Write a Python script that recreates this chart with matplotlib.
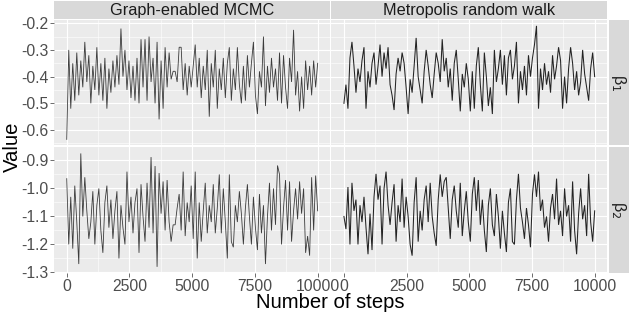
import numpy as np
import matplotlib
matplotlib.use("Agg")
import matplotlib.pyplot as plt
from matplotlib.ticker import MultipleLocator, FuncFormatter

plt.rcParams['font.family'] = ['Liberation Sans', 'DejaVu Sans']
plt.rcParams['axes.unicode_minus'] = False

# ---------------- data (thinned every 80 steps) ----------------
methods = ["Graph-enabled MCMC", "Metropolis random walk"]
params = ["β$_1$", "β$_2$"]
thin = 80

graph_beta1 = [
    -0.635, -0.30, -0.52, -0.35, -0.49, -0.31, -0.47, -0.34, -0.44, -0.27,
    -0.42, -0.32, -0.50, -0.36, -0.45, -0.29, -0.47, -0.35, -0.49, -0.33,
    -0.52, -0.37, -0.46, -0.34, -0.44, -0.32, -0.43, -0.22, -0.40, -0.30,
    -0.45, -0.34, -0.48, -0.36, -0.49, -0.33, -0.50, -0.26, -0.44, -0.26,
    -0.49, -0.25, -0.42, -0.33, -0.50, -0.27, -0.56, -0.34, -0.52, -0.29,
    -0.44, -0.31, -0.41, -0.38, -0.38, -0.42, -0.29, -0.29, -0.45, -0.35,
    -0.47, -0.36, -0.44,
    -0.36, -0.28, -0.44, -0.33, -0.48, -0.36, -0.45, -0.30, -0.55, -0.35,
    -0.44, -0.30, -0.52, -0.37, -0.45, -0.33, -0.48, -0.35, -0.29, -0.49,
    -0.37, -0.45, -0.29, -0.43, -0.50, -0.36, -0.49, -0.32, -0.44, -0.35,
    -0.27, -0.47, -0.54, -0.38, -0.44, -0.25, -0.51, -0.36, -0.46, -0.33,
    -0.44, -0.37, -0.49, -0.31, -0.50, -0.32, -0.44, -0.52, -0.33, -0.42,
    -0.225, -0.47, -0.38, -0.53, -0.40, -0.52, -0.34, -0.45, -0.36, -0.47,
    -0.34, -0.44, -0.35,
]

metro_beta1 = [
    -0.50, -0.43, -0.52, -0.33, -0.27, -0.36, -0.46, -0.37, -0.42, -0.34,
    -0.29, -0.52, -0.38, -0.44, -0.35, -0.31, -0.43, -0.36, -0.28, -0.40,
    -0.31, -0.37, -0.29, -0.43, -0.47, -0.525, -0.39, -0.33, -0.38, -0.31,
    -0.35, -0.44, -0.54, -0.41, -0.46, -0.36, -0.255, -0.40, -0.45, -0.50,
    -0.38, -0.30, -0.36, -0.43, -0.48, -0.39, -0.31, -0.35, -0.42, -0.26,
    -0.38, -0.33, -0.44, -0.37, -0.49, -0.35, -0.30, -0.41, -0.53, -0.39,
    -0.44, -0.35, -0.41,
    -0.53, -0.38, -0.52, -0.36, -0.29, -0.43, -0.53, -0.31, -0.40, -0.51,
    -0.44, -0.54, -0.30, -0.42, -0.37, -0.30, -0.43, -0.32, -0.47, -0.33,
    -0.30, -0.41, -0.36, -0.27, -0.50, -0.38, -0.45, -0.36, -0.47, -0.32,
    -0.40, -0.33, -0.28, -0.21, -0.52, -0.37, -0.45, -0.35, -0.43, -0.38,
    -0.46, -0.32, -0.41, -0.36, -0.29, -0.34, -0.52, -0.40, -0.50, -0.37,
    -0.29, -0.35, -0.45, -0.38, -0.47, -0.42, -0.30, -0.39, -0.44, -0.49,
    -0.37, -0.31, -0.40,
]

graph_beta2 = [
    -0.965, -1.20, -1.03, -1.215, -0.99, -1.12, -1.27, -0.875, -1.10, -0.96,
    -1.08, -1.18, -1.12, -1.01, -1.20, -1.06, -1.00, -1.15, -1.23, -1.05,
    -0.99, -1.14, -1.04, -1.18, -1.08, -1.01, -1.25, -1.06, -1.14, -1.20,
    -0.94, -1.12, -1.03, -1.16, -1.05, -1.00, -1.23, -0.985, -1.10, -1.19,
    -0.98, -1.14, -0.888, -1.16, -0.92, -1.28, -0.945, -1.09, -0.975, -1.15,
    -0.97, -1.12, -1.19, -1.13, -1.13, -1.07, -1.02, -1.15, -0.94, -1.17,
    -1.05, -1.12, -0.99,
    -1.18, -0.94, -1.25, -1.05, -1.19, -1.08, -0.98, -1.16, -1.06, -1.12,
    -0.985, -1.16, -1.07, -0.95, -1.16, -1.00, -1.12, -1.25, -0.95, -1.19,
    -1.21, -1.06, -1.12, -1.01, -1.09, -1.20, -1.07, -0.985, -1.10, -1.20,
    -1.03, -1.14, -1.22, -1.02, -1.16, -1.06, -1.27, -1.10, -0.98, -1.15,
    -1.00, -1.13, -0.918, -0.95, -1.20, -1.07, -0.97, -1.15, -0.975, -1.19,
    -1.08, -1.00, -1.11, -0.975, -1.09, -1.00, -1.23, -1.17, -1.24, -0.96,
    -1.15, -0.954, -1.08,
]

metro_beta2 = [
    -1.10, -1.145, -0.995, -1.20, -0.98, -1.08, -1.04, -1.20, -1.06, -1.12,
    -1.03, -1.14, -1.235, -1.09, -1.22, -1.03, -0.948, -1.04, -0.99, -1.20,
    -1.00, -0.94, -1.06, -1.13, -1.05, -0.985, -1.19, -1.06, -1.12, -0.965,
    -1.14, -1.03, -1.10, -1.20, -1.24, -1.05, -0.96, -1.19, -1.08, -1.15,
    -1.04, -0.99, -1.12, -0.98, -1.10, -1.16, -1.205, -1.04, -0.95, -1.03,
    -0.975, -0.96, -1.07, -1.18, -1.04, -0.99, -1.08, -1.14, -0.98, -1.17,
    -1.08, -1.01, -1.12,
    -1.19, -1.02, -0.96, -1.08, -0.97, -1.13, -1.04, -1.15, -1.227, -1.06,
    -1.00, -1.13, -1.17, -1.02, -1.10, -1.215, -1.08, -1.16, -1.227, -1.05,
    -1.00, -1.19, -1.20, -1.04, -0.948, -1.07, -1.12, -1.18, -1.07, -1.13,
    -1.21, -1.02, -0.95, -1.03, -0.94, -1.08, -1.04, -1.14, -1.10, -1.19,
    -1.07, -1.02, -1.11, -0.965, -1.13, -1.08, -1.17, -1.00, -1.10, -1.06,
    -1.19, -0.975, -1.15, -1.235, -1.09, -1.00, -1.11, -1.06, -1.17, -0.948,
    -1.12, -1.19, -1.08,
]

series = [[graph_beta1, metro_beta1], [graph_beta2, metro_beta2]]

x_ticks = [0, 2500, 5000, 7500, 10000]
y_ticks = [[-0.6, -0.5, -0.4, -0.3, -0.2], [-1.3, -1.2, -1.1, -1.0, -0.9]]
y_lims = [(-0.656, -0.188), (-1.302, -0.852)]
x_lim = (-500, 10500)

# ---------------- figure ----------------
W, H = 630, 315
fig = plt.figure(figsize=(W / 100, H / 100), dpi=100)

def fx(px):
    return px / W

def fy(py):
    return 1 - py / H

col_x = [(54.2, 330.2), (331.4, 607.2)]
row_y = [(20.0, 145.0), (147.0, 273.0)]

panel_bg = "#EBEBEB"
strip_bg = "#D9D9D9"
tick_col = "#4D4D4D"
line_w = [0.6, 0.75]
line_a = [0.75, 0.85]

for r in range(2):
    for c in range(2):
        x0, x1 = col_x[c]
        y0, y1 = row_y[r]
        ax = fig.add_axes([fx(x0), fy(y1), fx(x1 - x0), (y1 - y0) / H])
        ax.set_facecolor(panel_bg)
        for s in ax.spines.values():
            s.set_visible(False)
        vals = series[r][c]
        steps = np.arange(len(vals)) * thin
        ax.plot(steps, vals, color="black", lw=line_w[c], alpha=line_a[c],
                solid_joinstyle="miter")
        ax.set_xlim(*x_lim)
        ax.set_ylim(*y_lims[r])
        ax.set_xticks(x_ticks)
        ax.set_yticks(y_ticks[r])
        ax.xaxis.set_minor_locator(MultipleLocator(1250))
        ax.yaxis.set_minor_locator(MultipleLocator(0.05))
        ax.grid(which="major", color="white", lw=0.85)
        ax.grid(which="minor", color="white", lw=0.4)
        ax.set_axisbelow(True)
        ax.tick_params(which="minor", length=0)
        ax.tick_params(which="major", length=2.7, width=0.5, color="#333333",
                       labelsize=11.3, labelcolor=tick_col, pad=1.5)
        ax.yaxis.set_major_formatter(FuncFormatter(lambda v, p: "%.1f" % v))
        if r == 0:
            ax.tick_params(axis="x", bottom=False, labelbottom=False)
        if c == 1:
            ax.tick_params(axis="y", left=False, labelleft=False)

# top strips
for c in range(2):
    x0, x1 = col_x[c]
    sax = fig.add_axes([fx(x0), fy(19.0), fx(x1 - x0), 18.0 / H])
    sax.set_facecolor(strip_bg)
    sax.set_xticks([]); sax.set_yticks([])
    for s in sax.spines.values():
        s.set_visible(False)
    sax.text(0.5, 0.5, methods[c], ha="center", va="center", fontsize=11.7,
             color="#1A1A1A", transform=sax.transAxes)

# right strips
for r in range(2):
    y0, y1 = row_y[r]
    sax = fig.add_axes([fx(608.5), fy(y1), fx(20.5), (y1 - y0) / H])
    sax.set_facecolor(strip_bg)
    sax.set_xticks([]); sax.set_yticks([])
    for s in sax.spines.values():
        s.set_visible(False)
    sax.text(0.5, 0.5, params[r], ha="center", va="center", fontsize=11.5,
             color="#1A1A1A", rotation=-90, transform=sax.transAxes)

fig.text(fx((col_x[0][0] + col_x[1][1]) / 2), fy(302), "Number of steps",
         ha="center", va="center", fontsize=14.6, color="black")
fig.text(fx(12), fy((row_y[0][0] + row_y[1][1]) / 2), "Value",
         ha="center", va="center", rotation=90, fontsize=14.6, color="black")

fig.savefig("out.png", dpi=100)
